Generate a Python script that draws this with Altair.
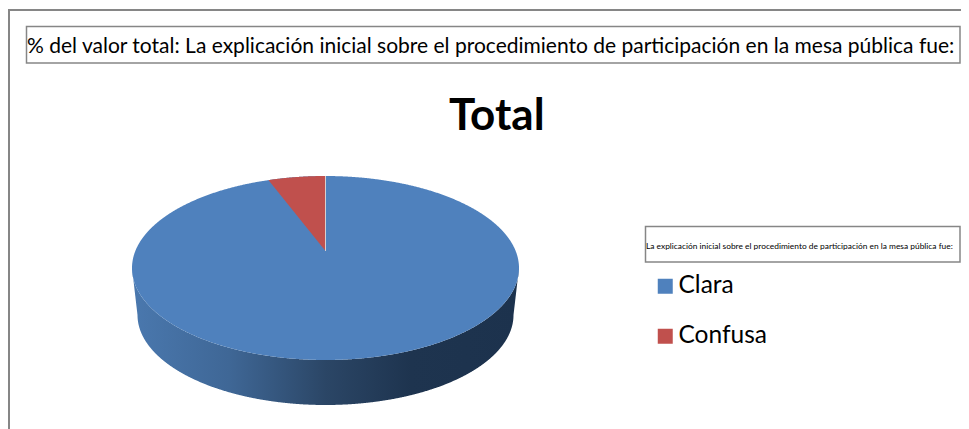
import numpy as np
import pandas as pd
import altair as alt

# Chart values
categories = ["Clara", "Confusa"]
values = [20, 1]
colors = ["#4F81BD", "#C0504D"]
chart_title = "Total"
box_title = "% del valor total: La explicación inicial sobre el procedimiento de participación en la mesa pública fue:"
legend_title = "La explicación inicial sobre el procedimiento de participación en la mesa pública fue:"

FONT = "Lato"
GREY = "#868686"

# Pie projection (top face, bottom rim, apex of the slices)
CX, CY, RX, RY = 325.5, 268.0, 193.5, 92.0
BCY, BRX, BRY = 315.0, 188.0, 90.0
TIP_Y = 251.0

PLOT_W, PLOT_H = 953, 421
xs = alt.Scale(domain=[8, 8 + PLOT_W], nice=False, zero=False)
ys = alt.Scale(domain=[8 + PLOT_H, 8], nice=False, zero=False)
X = alt.X("x:Q", scale=xs, axis=None)
Y = alt.Y("y:Q", scale=ys, axis=None)


def arc_half(x):
    return RY * np.sqrt(np.clip(1 - ((x - CX) / RX) ** 2, 0, 1))


# Top face: full ellipse in the first category, slice of the second over it
t = np.linspace(np.pi, 0, 721)
ex = CX + RX * np.cos(t)
face = pd.DataFrame({"x": ex, "y": CY - arc_half(ex), "y2": CY + arc_half(ex), "cat": categories[0]})

share = values[1] / sum(values)
edge_x = CX - RX * np.sin(2 * np.pi * share)
edge_y = CY - arc_half(np.array([edge_x]))[0]
wx = np.linspace(edge_x, CX, 120)
slice_df = pd.DataFrame({
    "x": wx,
    "y": CY - arc_half(wx),
    "y2": TIP_Y + (edge_y - TIP_Y) * (CX - wx) / (CX - edge_x),
    "cat": categories[1],
})
top = pd.concat([face, slice_df], ignore_index=True)

# Side wall
bx = CX + BRX * np.cos(t)
sx = np.unique(np.concatenate([ex, bx]))
inside = np.abs(sx - CX) <= BRX
lower = np.where(
    inside,
    BCY + BRY * np.sqrt(np.clip(1 - ((sx - CX) / BRX) ** 2, 0, 1)),
    CY + (BCY - CY) * (RX - np.abs(sx - CX)) / (RX - BRX),
)
side = pd.DataFrame({"x": sx, "y": CY + arc_half(sx), "y2": lower})

side_layer = alt.Chart(side).mark_area(
    color=alt.Gradient(
        gradient="linear", x1=0, x2=1, y1=0, y2=0,
        stops=[
            alt.GradientStop(offset=0, color="#4A78AE"),
            alt.GradientStop(offset=0.25, color="#3F6796"),
            alt.GradientStop(offset=0.5, color="#2B4666"),
            alt.GradientStop(offset=0.72, color="#1E344F"),
            alt.GradientStop(offset=1, color="#1C324D"),
        ],
    )
).encode(x=X, y=Y, y2="y2:Q")

top_layer = alt.Chart(top).mark_area(opacity=1).encode(
    x=X, y=Y, y2="y2:Q",
    color=alt.Color(
        "cat:N",
        scale=alt.Scale(domain=categories, range=colors),
        legend=alt.Legend(
            title=None, orient="none", legendX=645, legendY=266,
            symbolType="square", symbolSize=225, symbolStrokeWidth=0,
            labelFont=FONT, labelFontSize=24.5, labelColor="#000000",
            labelOffset=1, rowPadding=25, padding=0,
        ),
    ),
)

seam = alt.Chart(pd.DataFrame({"x": [CX], "y": [CY - RY], "y2": [TIP_Y]})).mark_rule(
    color="#D8CFCF", strokeWidth=1
).encode(x=X, y=Y, y2="y2:Q")

# Frame and annotation boxes
frame_top = alt.Chart(pd.DataFrame({"x": [8], "x2": [8 + PLOT_W], "y": [10]})).mark_rule(
    color=GREY, strokeWidth=2
).encode(x=X, x2="x2:Q", y=Y)
frame_left = alt.Chart(pd.DataFrame({"x": [9], "y": [10], "y2": [8 + PLOT_H]})).mark_rule(
    color=GREY, strokeWidth=2
).encode(x=X, y=Y, y2="y2:Q")

boxes = alt.Chart(pd.DataFrame({
    "x": [26.5, 645.5], "x2": [960, 960], "y": [26.5, 226.5], "y2": [63, 262],
})).mark_rect(fill="#FFFFFF", stroke=GREY, strokeWidth=1.5).encode(x=X, x2="x2:Q", y=Y, y2="y2:Q")


def label(text, x, y, size, weight="normal"):
    return alt.Chart(pd.DataFrame({"x": [x], "y": [y], "t": [text]})).mark_text(
        align="left", baseline="middle", font=FONT, color="#000000",
        fontSize=size, fontWeight=weight,
    ).encode(x=X, y=Y, text="t:N")


chart = alt.layer(
    frame_top, frame_left, side_layer, top_layer, seam, boxes,
    label(box_title, 27, 47, 21),
    label(legend_title, 646, 245.5, 8.4),
    label(chart_title, 449, 117, 44, "bold"),
).properties(
    width=PLOT_W, height=PLOT_H, padding=0, background="#FFFFFF",
    autosize=alt.AutoSizeParams(type="none"),
).configure_view(stroke=None)

chart.save("out.html", embed_options={"renderer": "svg", "actions": False})
